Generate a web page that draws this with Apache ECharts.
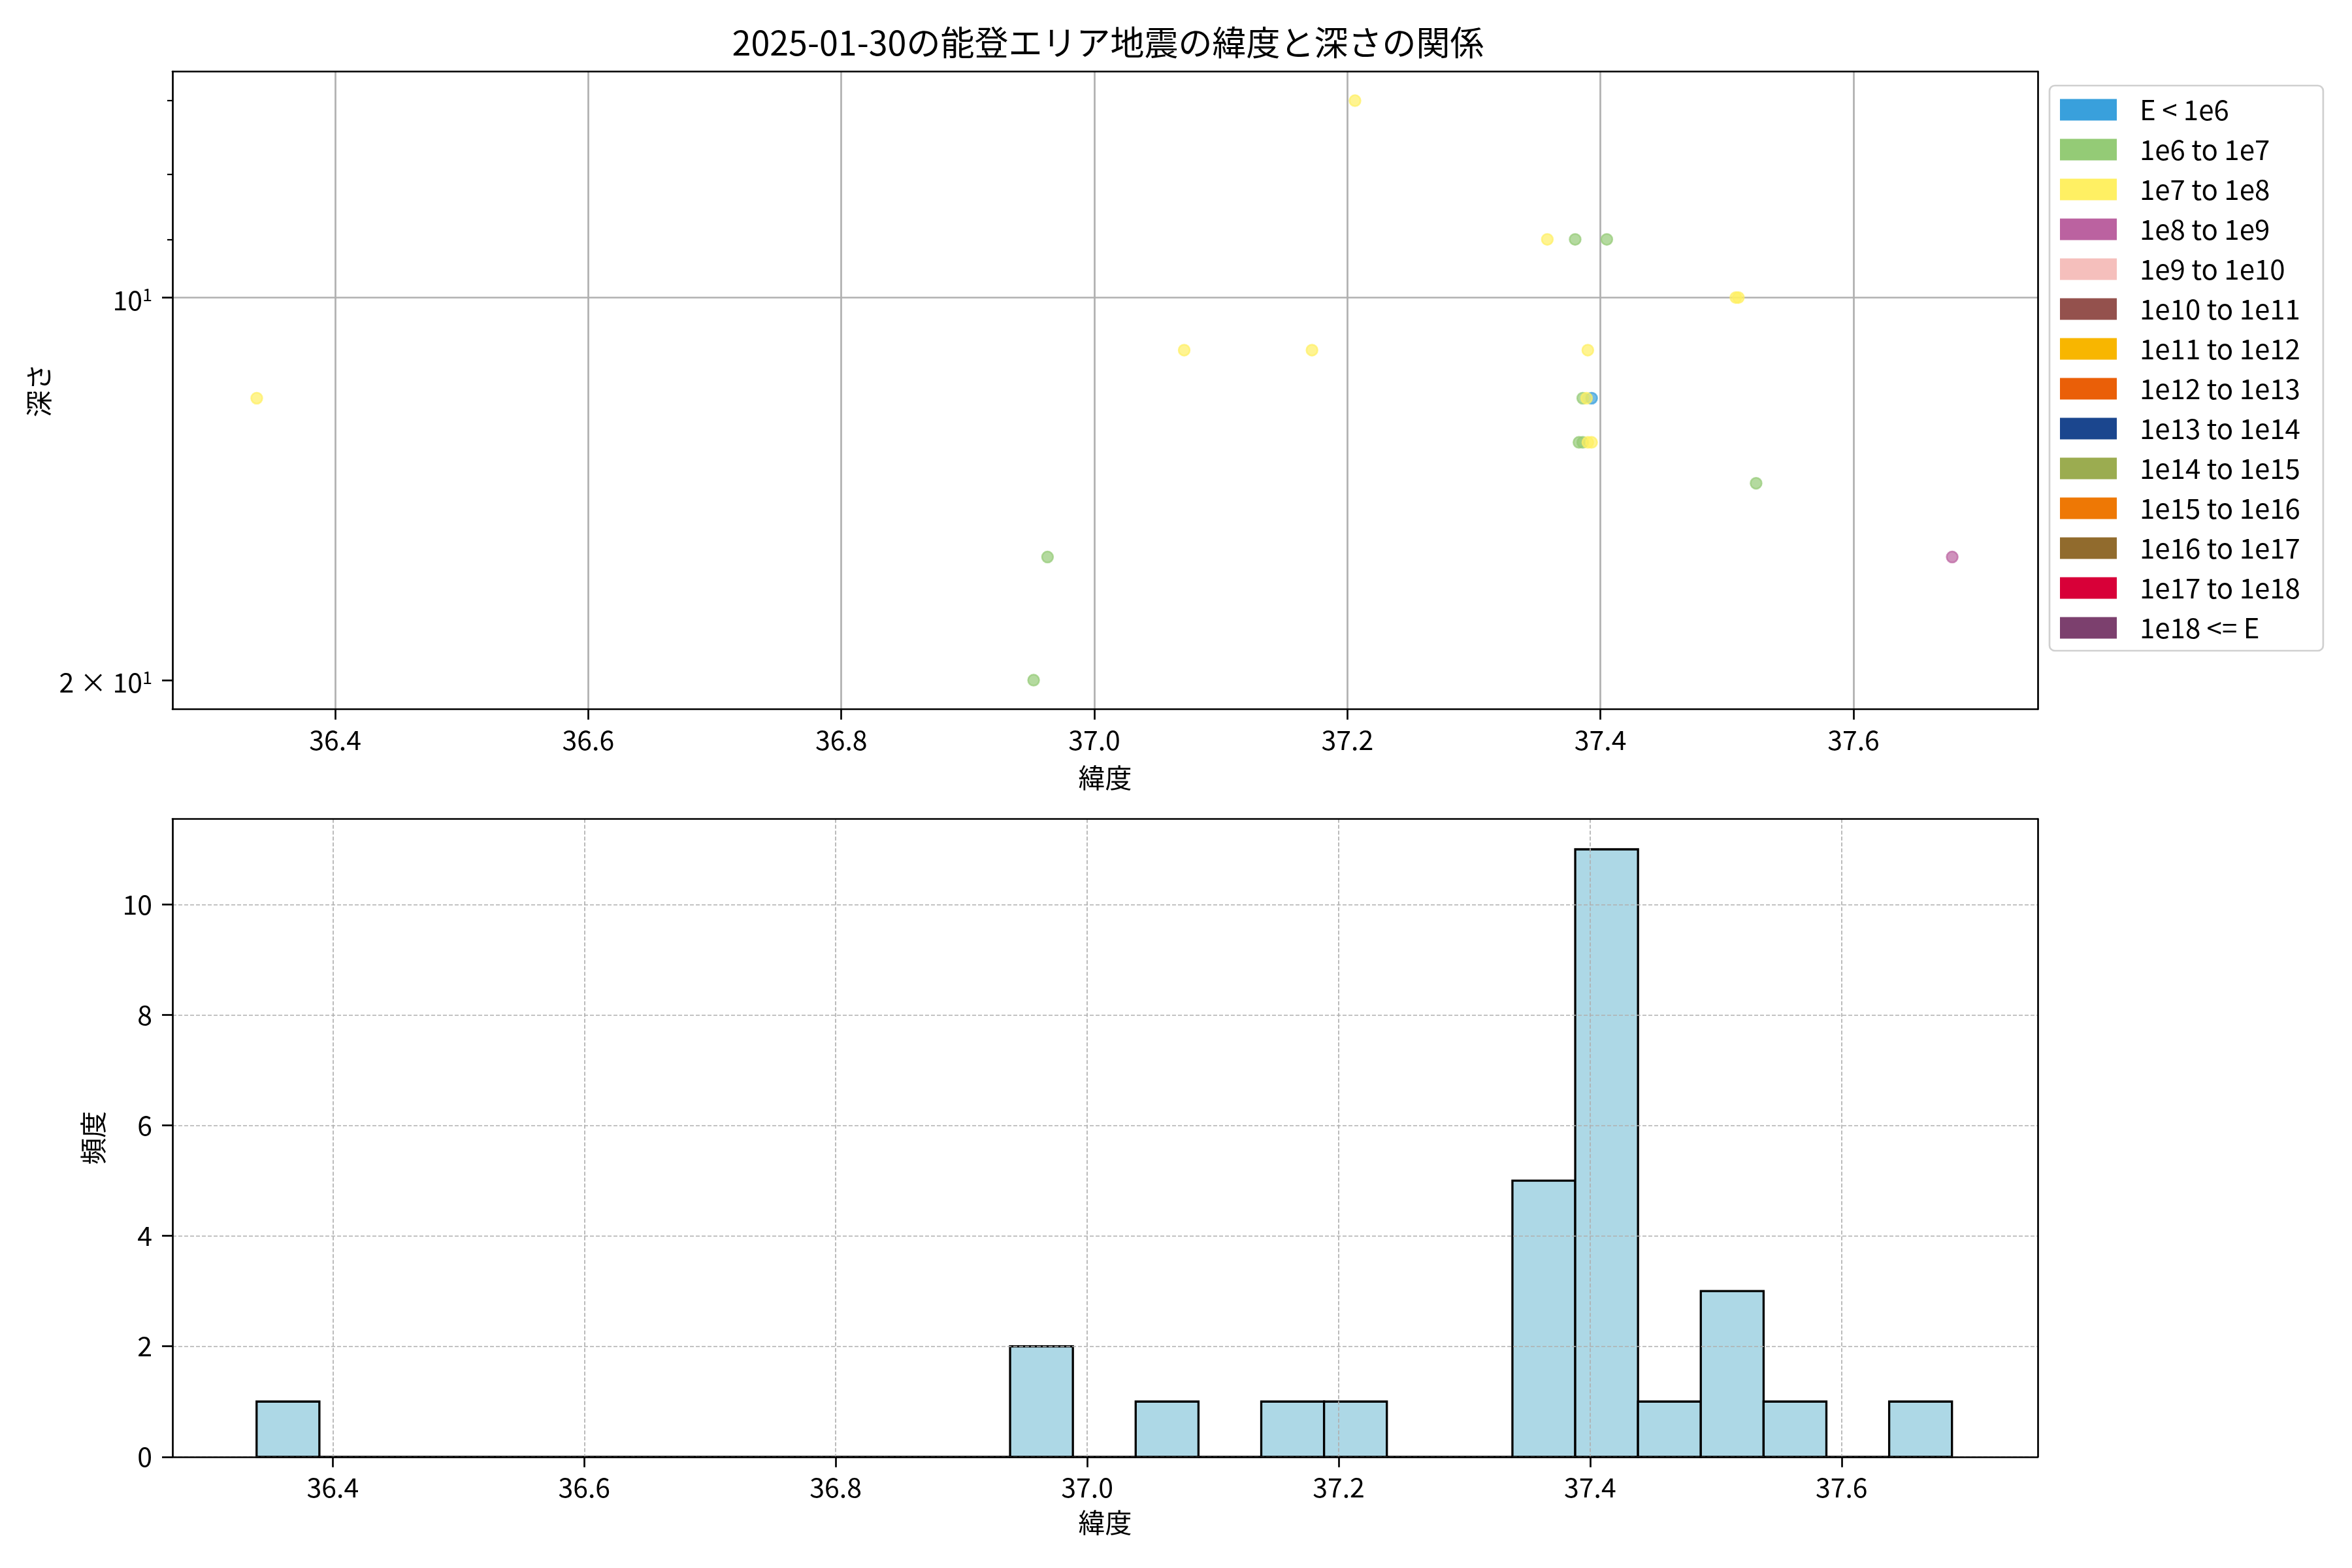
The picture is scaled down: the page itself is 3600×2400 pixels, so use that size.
<!DOCTYPE html>
<html><head><meta charset="utf-8">
<script src="https://cdn.jsdelivr.net/npm/echarts@6/dist/echarts.min.js"></script>
<style>html,body{margin:0;padding:0;background:#fff}#c{width:3600px;height:2400px}</style>
</head><body><div id="c"></div>
<script>
const FONT = '"Noto Sans CJK JP", "Noto Sans", sans-serif';
const titleText = '2025-01-30の能登エリア地震の緯度と深さの関係';
const xName = '緯度';
const depthName = '深さ';
const freqName = '頻度';

const energyClasses = ['E < 1e6','1e6 to 1e7','1e7 to 1e8','1e8 to 1e9','1e9 to 1e10','1e10 to 1e11','1e11 to 1e12','1e12 to 1e13','1e13 to 1e14','1e14 to 1e15','1e15 to 1e16','1e16 to 1e17','1e17 to 1e18','1e18 <= E'];
const classColors = ['#39A0DC','#94CB76','#FFF063','#BB62A0','#F5BFBC','#94514D','#F8B600','#EA5F08','#1B468E','#9BAC50','#EE7805','#916B2D','#D80038','#7C406E'];

// scatter points: latitude, depth (km), energy class index
const lats   = [36.338, 36.952, 36.963, 37.071, 37.172, 37.206, 37.358, 37.380, 37.405, 37.507, 37.509, 37.390, 37.386, 37.389, 37.393, 37.383, 37.386, 37.390, 37.393, 37.523, 37.678];
const depths = [12,     20,     16,     11,     11,     7,      9,      9,      9,      10,     10,     11,     12,     12,     12,     13,     13,     13,     13,     14,     16];
const classIdx = [2,    1,      1,      2,      2,      2,      2,      1,      1,      2,      2,      2,      1,      2,      0,      1,      1,      2,      2,      1,      3];

const xTicks = [36.4, 36.6, 36.8, 37.0, 37.2, 37.4, 37.6];
const depthLabelTicks = [10, 20];
const depthGridTicks = [10];
const depthMajorTicks = [20];
const depthMinorTicks = [7, 8, 9];

const histBinStart = 36.3394;
const histBinWidth = 0.04994;
const histCounts = [1,0,0,0,0,0,0,0,0,0,0,0,2,0,1,0,1,1,0,0,5,11,1,3,1,0,1];
const freqTicks = [0, 2, 4, 6, 8, 10];

const histData = histCounts.map((c, i) => [histBinStart + i*histBinWidth, histBinStart + (i+1)*histBinWidth, c]);

const scatterSeries = energyClasses.map((name, k) => ({
  name, type: 'scatter', xAxisIndex: 0, yAxisIndex: 0,
  symbolSize: 17,
  itemStyle: { color: classColors[k], opacity: 0.7, borderColor: classColors[k], borderWidth: 2.5 },
  data: lats.map((la, i) => [la, depths[i], classIdx[i]]).filter(d => d[2] === k).map(d => [d[0], d[1]])
}));

const BLACK = '#000';
const axLine = { show: true, onZero: false, lineStyle: { color: BLACK, width: 2.7 } };
const lbl = { fontSize: 41, fontFamily: FONT, color: BLACK };

const chart = echarts.init(document.getElementById('c'), null, { renderer: 'canvas' });
chart.setOption({
  backgroundColor: '#fff',
  animation: false,
  title: { text: titleText, left: 1691, top: 34, textAlign: 'center',
    textStyle: { fontSize: 52, fontWeight: 'normal', fontFamily: FONT, color: BLACK } },
  legend: {
    orient: 'vertical', left: 3137, top: 131,
    data: energyClasses, icon: 'rect', itemWidth: 87, itemHeight: 33, itemGap: 19,
    padding: [16, 35, 14, 16], borderColor: '#d0d0d0', borderWidth: 2.7, borderRadius: 8,
    itemStyle: { opacity: 1, borderWidth: 0 },
    textStyle: { fontSize: 42, lineHeight: 40, fontFamily: FONT, color: BLACK, padding: [0, 0, 0, 30] }
  },
  grid: [
    { left: 264, top: 109.5, width: 2855, height: 976 },
    { left: 264, top: 1253.5, width: 2855, height: 976.3 }
  ],
  xAxis: [
    { type: 'value', gridIndex: 0, min: 36.2714, max: 37.7456, position: 'bottom',
      name: xName, nameLocation: 'middle', nameGap: 84, nameTextStyle: lbl,
      axisLine: axLine,
      axisTick: { show: true, customValues: xTicks, length: 16, lineStyle: { color: BLACK, width: 2.7 } },
      axisLabel: { show: true, customValues: xTicks, margin: 26, formatter: v => v.toFixed(1), ...lbl },
      splitLine: { show: true, lineStyle: { color: '#b0b0b0', width: 2.7 } } },
    { type: 'value', gridIndex: 0, min: 0, max: 1, position: 'top',
      axisLine: axLine, axisTick: { show: false }, axisLabel: { show: false }, splitLine: { show: false } },
    { type: 'value', gridIndex: 1, min: 36.2725, max: 37.756, position: 'bottom', z: 5,
      name: xName, nameLocation: 'middle', nameGap: 80, nameTextStyle: lbl,
      axisLine: axLine,
      axisTick: { show: true, customValues: xTicks, length: 16, lineStyle: { color: BLACK, width: 2.7 } },
      axisLabel: { show: true, customValues: xTicks, margin: 26, formatter: v => v.toFixed(1), ...lbl },
      splitLine: { show: true, lineStyle: { color: '#b0b0b0', width: 1.7, type: [6, 3] } } },
    { type: 'value', gridIndex: 1, min: 0, max: 1, position: 'top', z: 5,
      axisLine: axLine, axisTick: { show: false }, axisLabel: { show: false }, splitLine: { show: false } }
  ],
  yAxis: [
    { type: 'log', logBase: 10, gridIndex: 0, min: 6.64, max: 21.08, inverse: true, position: 'left',
      name: depthName, nameLocation: 'middle', nameGap: 178, nameTextStyle: lbl,
      axisLine: axLine,
      axisTick: { show: true, customValues: depthGridTicks, length: 16, lineStyle: { color: BLACK, width: 2.7 } },
      axisLabel: { show: true, customValues: depthLabelTicks, margin: 31,
        formatter: v => Math.abs(v - 10) < 1e-6 ? '{b|10}{s|1}' : (Math.abs(v - 20) < 1e-6 ? '{b|2 × 10}{s|1}' : ''),
        rich: { b: { fontSize: 41, fontFamily: FONT, color: BLACK, lineHeight: 48, verticalAlign: 'bottom' },
                s: { fontSize: 27, fontFamily: FONT, color: BLACK, lineHeight: 30, verticalAlign: 'top', padding: [6, 0, 0, 0] } } },
      splitLine: { show: true, lineStyle: { color: '#b0b0b0', width: 2.7 } } },
    { type: 'log', logBase: 10, gridIndex: 0, min: 6.64, max: 21.08, inverse: true, position: 'left',
      axisLine: { show: false }, axisLabel: { show: false }, splitLine: { show: false },
      axisTick: { show: true, customValues: depthMajorTicks, length: 16, lineStyle: { color: BLACK, width: 2.7 } } },
    { type: 'log', logBase: 10, gridIndex: 0, min: 6.64, max: 21.08, inverse: true, position: 'left',
      axisLine: { show: false }, axisLabel: { show: false }, splitLine: { show: false },
      axisTick: { show: true, customValues: depthMinorTicks, length: 8, lineStyle: { color: BLACK, width: 2.2 } } },
    { type: 'value', gridIndex: 0, min: 0, max: 1, position: 'right',
      axisLine: axLine, axisTick: { show: false }, axisLabel: { show: false }, splitLine: { show: false } },
    { type: 'value', gridIndex: 1, min: 0, max: 11.55, position: 'left', z: 5,
      name: freqName, nameLocation: 'middle', nameGap: 101, nameTextStyle: lbl,
      axisLine: axLine,
      axisTick: { show: true, customValues: freqTicks, length: 16, lineStyle: { color: BLACK, width: 2.7 } },
      axisLabel: { show: true, customValues: freqTicks, margin: 31, ...lbl },
      splitLine: { show: true, lineStyle: { color: '#b0b0b0', width: 1.7, type: [6, 3] } } },
    { type: 'value', gridIndex: 1, min: 0, max: 1, position: 'right', z: 5,
      axisLine: axLine, axisTick: { show: false }, axisLabel: { show: false }, splitLine: { show: false } }
  ],
  series: [
    ...scatterSeries,
    { name: 'hist', type: 'custom', xAxisIndex: 2, yAxisIndex: 4, z: 1,
      data: histData,
      renderItem: function (params, api) {
        const p0 = api.coord([api.value(0), api.value(2)]);
        const p1 = api.coord([api.value(1), 0]);
        return { type: 'rect',
          shape: { x: p0[0], y: p0[1], width: p1[0] - p0[0], height: p1[1] - p0[1] },
          style: { fill: '#ADD8E6', stroke: BLACK, lineWidth: 3.3 } };
      } }
  ]
});
</script>
</body></html>
